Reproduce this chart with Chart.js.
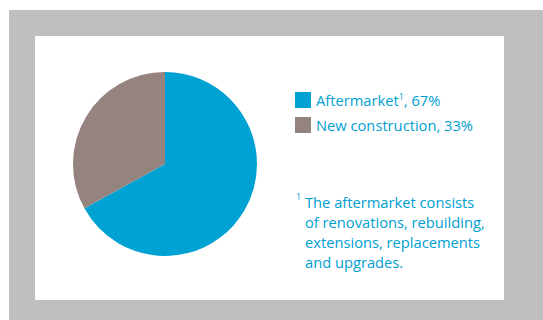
<!DOCTYPE html>
<html>
<head>
<meta charset="utf-8">
<script src="https://cdn.jsdelivr.net/npm/chart.js@4/dist/chart.umd.min.js"></script>
<style>
  html, body { margin: 0; padding: 0; background: #ffffff; }
  #page { position: relative; width: 543px; height: 320px; overflow: hidden; background: #ffffff; }
  #frame { position: absolute; left: 9px; top: 10px; width: 534px; height: 310px; background: #bfbfbf; }
  #panel { position: absolute; left: 35px; top: 36px; width: 469px; height: 264px; background: #ffffff; }
  #pieBox { position: absolute; left: 73px; top: 72px; width: 184px; height: 184px; }
  .txt { font-family: "Open Sans", "Noto Sans", sans-serif; color: #00a0d2; font-size: 14.7px; }
  #legend { position: absolute; left: 295px; top: 90px; }
  .item { position: relative; height: 25px; white-space: nowrap; }
  .sw { position: absolute; left: 0; top: 2px; width: 16px; height: 16px; }
  .lab { position: absolute; left: 21px; top: 0; line-height: 20px; }
  sup { font-size: 9px; vertical-align: 0; position: relative; top: -6px; }
  #note { position: absolute; left: 296px; top: 192px; line-height: 20px; white-space: nowrap; }
  #note .mark { position: absolute; left: 0; top: -5px; font-size: 9px; }
  #note .body { padding-left: 9px; }
</style>
</head>
<body>
<div id="page">
  <div id="frame"></div>
  <div id="panel"></div>
  <div id="pieBox"><canvas id="pie" width="184" height="184"></canvas></div>
  <div id="legend" class="txt"></div>
  <div id="note" class="txt"><span class="mark">1</span><div class="body"></div></div>
</div>
<script>
// Market split by segment, percent
const categories = ["Aftermarket", "New construction"];
const shares = [67, 33];
const footnoteMarks = ["1", ""];
const colors = ["#00a1d3", "#95837f"];
const footnoteLines = [
  "The aftermarket consists",
  "of renovations, rebuilding,",
  "extensions, replacements",
  "and upgrades."
];

new Chart(document.getElementById("pie"), {
  type: "pie",
  data: {
    labels: categories,
    datasets: [{ data: shares, backgroundColor: colors, borderWidth: 0 }]
  },
  options: {
    responsive: false,
    animation: false,
    layout: { padding: 0 },
    plugins: { legend: { display: false }, tooltip: { enabled: false } }
  }
});

// Legend entries
const legend = document.getElementById("legend");
categories.forEach((name, i) => {
  const item = document.createElement("div");
  item.className = "item";
  const sw = document.createElement("div");
  sw.className = "sw";
  sw.style.background = colors[i];
  const lab = document.createElement("div");
  lab.className = "lab";
  lab.append(name);
  if (footnoteMarks[i]) {
    const s = document.createElement("sup");
    s.textContent = footnoteMarks[i];
    lab.append(s);
  }
  lab.append(", " + shares[i] + "%");
  item.append(sw, lab);
  legend.append(item);
});

// Footnote text
const body = document.querySelector("#note .body");
footnoteLines.forEach(line => {
  const d = document.createElement("div");
  d.textContent = line;
  body.append(d);
});
</script>
</body>
</html>
